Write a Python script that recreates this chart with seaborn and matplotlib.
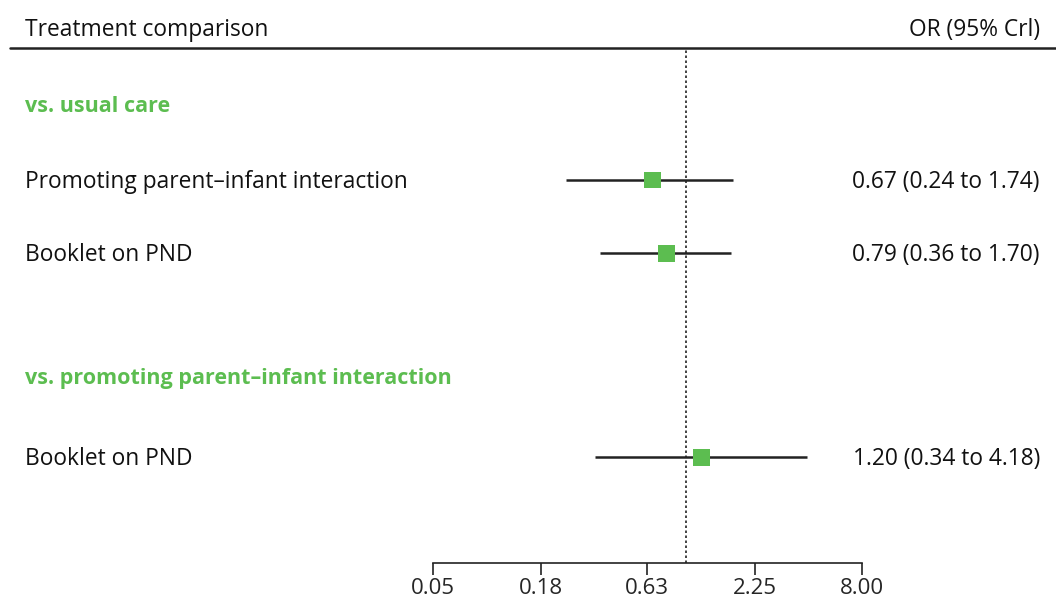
import numpy as np
import pandas as pd
import matplotlib
matplotlib.use("Agg")
import matplotlib.pyplot as plt
import seaborn as sns

# data
group_labels = ["vs. usual care", "vs. promoting parent\u2013infant interaction"]
row_labels = ["Promoting parent\u2013infant interaction", "Booklet on PND", "Booklet on PND"]
odds = [0.67, 0.79, 1.20]
lower = [0.24, 0.36, 0.34]
upper = [1.74, 1.70, 4.18]
tick_vals = [0.05, 0.18, 0.63, 2.25, 8.00]

# layout (row positions in "row units", top = 0)
group_y = [0.0, 3.64]
row_y = [1.01, 1.99, 4.71]

green = "#5cbd50"
sns.set_theme(style="white")
plt.rcParams["font.family"] = ["Open Sans", "DejaVu Sans"]
fs = 16.4

fig = plt.figure(figsize=(10.56, 6.04), dpi=100)
W, H = 1056, 604
top_px, bot_px = 48, 563
ax = fig.add_axes([433 / W, 1 - bot_px / H, 429 / W, (bot_px - top_px) / H])
ax.set_xscale("log")
ax.set_xlim(0.05, 8)
ax.set_ylim(6.12, -0.75)

df = pd.DataFrame({"label": row_labels, "or": odds, "lo": lower, "hi": upper, "y": row_y})

ax.hlines(df["y"], df["lo"], df["hi"], color="#222222", lw=1.8, zorder=2)
sns.scatterplot(data=df, x="or", y="y", marker="s", s=140, color=green,
                edgecolor="none", ax=ax, zorder=3, legend=False)
ax.axvline(1, color="#222222", lw=1.2, ls=(0, (1.5, 1.5)), zorder=1)

for s in ["left", "right", "top"]:
    ax.spines[s].set_visible(False)
ax.spines["bottom"].set_color("#222222")
ax.spines["bottom"].set_linewidth(1.2)
ax.set_xticks(tick_vals)
ax.set_xticklabels([f"{v:.2f}" for v in tick_vals], fontsize=16)
ax.xaxis.set_minor_locator(matplotlib.ticker.NullLocator())
ax.tick_params(axis="x", direction="out", length=8.5, width=1.2, color="#222222",
               pad=2, bottom=True)
ax.set_yticks([])
ax.set_xlabel("")
ax.set_ylabel("")


def fy(px):
    return 1 - px / H


# header
fig.text(25 / W, fy(30), "Treatment comparison", fontsize=fs, va="center", ha="left", color="#111111")
fig.text(1040 / W, fy(30), "OR (95% Crl)", fontsize=fs, va="center", ha="right", color="#111111")
fig.add_artist(plt.Line2D([10 / W, 1], [fy(48), fy(48)], color="#222222", lw=1.8))

# left and right labels
tr = matplotlib.transforms.blended_transform_factory(fig.transFigure, ax.transData)
off = 0.025
for g, y in zip(group_labels, group_y):
    ax.text(25 / W, y + off, g, transform=tr, fontsize=15.5, fontweight="bold", color=green,
            va="center", ha="left")
for lab, y, o, lo, hi in zip(row_labels, row_y, odds, lower, upper):
    ax.text(25 / W, y + off, lab, transform=tr, fontsize=fs, va="center", ha="left", color="#111111")
    ax.text(1040 / W, y + off, f"{o:.2f} ({lo:.2f} to {hi:.2f})", transform=tr, fontsize=fs,
            va="center", ha="right", color="#111111")

fig.savefig("out.png", dpi=100)
